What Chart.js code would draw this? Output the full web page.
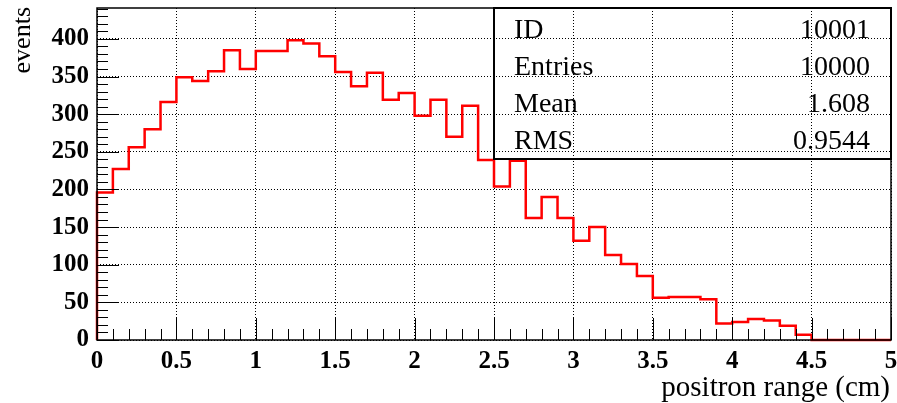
<!DOCTYPE html>
<html>
<head>
<meta charset="utf-8">
<script src="https://cdn.jsdelivr.net/npm/chart.js@4.4.1/dist/chart.umd.min.js"></script>
<style>
  body { margin: 0; background: #fff; }
  #caja { width: 897px; height: 403px; }
</style>
</head>
<body>
<div id="caja"><canvas id="myChart"></canvas></div>
<script>
// Histograma: 50 bins de 0.1 cm entre 0 y 5
const binWidth = 0.1;
const counts = [
  196, 227, 256, 280, 316, 349, 344, 357, 385, 360,
  384, 384, 398, 394, 377, 356, 337, 355, 319, 328,
  298, 319, 270, 311, 239, 204, 238, 162, 190, 162,
  132, 150, 113, 101, 85, 56, 57, 57, 54, 22,
  24, 28, 26, 19, 7, 0, 0, 0, 0, 0
];
const xTicks = [0, 0.5, 1, 1.5, 2, 2.5, 3, 3.5, 4, 4.5, 5];
const yTicks = [0, 50, 100, 150, 200, 250, 300, 350, 400];
const statNames = ['ID', 'Entries', 'Mean', 'RMS'];
const statValues = ['10001', '10000', '1.608', '0.9544'];

const fuente = '"Liberation Serif", "DejaVu Serif", serif';

// Puntos del escalon: (0,0), un punto por borde izquierdo de cada bin, cierre en x=5
const puntos = [{x: 0, y: 0}];
counts.forEach((c, i) => puntos.push({x: +(i * binWidth).toFixed(2), y: c}));
puntos.push({x: +(counts.length * binWidth).toFixed(2), y: counts[counts.length - 1]});

// Marco, ticks tipo ROOT hacia dentro, caja de estadisticas y titulos
const estiloRoot = {
  id: 'estiloRoot',
  afterDraw(chart) {
    const {ctx, chartArea: a, scales: {x, y}} = chart;
    ctx.save();
    ctx.strokeStyle = '#000';
    ctx.lineWidth = 1;
    ctx.beginPath();
    for (let v = 0; v <= 440; v += 10) {
      const py = Math.round(y.getPixelForValue(v)) + 0.5;
      const len = v % 50 === 0 ? 22 : 11;
      ctx.moveTo(a.left, py);
      ctx.lineTo(a.left + len, py);
    }
    for (let k = 0; k <= 50; k++) {
      const px = Math.round(x.getPixelForValue(k / 10)) + 0.5;
      const len = k % 5 === 0 ? 22 : 11;
      ctx.moveTo(px, a.bottom);
      ctx.lineTo(px, a.bottom - len);
    }
    ctx.stroke();

    // marco
    ctx.lineWidth = 1.5;
    ctx.strokeRect(a.left, a.top, a.right - a.left, a.bottom - a.top);

    // caja de estadisticas
    const bx = 494, by = a.top, bw = a.right - bx, bh = 159 - a.top;
    ctx.lineWidth = 2;
    ctx.strokeRect(bx, by, bw, bh);
    ctx.fillStyle = '#000';
    ctx.font = '28px ' + fuente;
    ctx.textBaseline = 'alphabetic';
    statNames.forEach((n, i) => {
      const base = 37.5 + i * 37.3;
      ctx.textAlign = 'left';
      ctx.fillText(n, 514, base);
      ctx.textAlign = 'right';
      ctx.fillText(statValues[i], 870, base);
    });

    // titulos de ejes
    ctx.font = '29px ' + fuente;
    ctx.textAlign = 'right';
    ctx.fillText('positron range (cm)', 890, 396);
    ctx.translate(23, 7);
    ctx.rotate(-Math.PI / 2);
    ctx.font = '26px ' + fuente;
    ctx.textAlign = 'right';
    ctx.textBaseline = 'middle';
    ctx.fillText('events', 0, 0);
    ctx.restore();
  }
};

new Chart(document.getElementById('myChart'), {
  type: 'line',
  data: {
    datasets: [{
      label: 'positron range',
      data: puntos,
      stepped: 'before',
      borderColor: '#ff0000',
      borderWidth: 2.5,
      pointRadius: 0,
      fill: false,
      clip: 4
    }]
  },
  options: {
    responsive: true,
    maintainAspectRatio: false,
    animation: false,
    layout: { padding: { top: 8, right: 6, left: 0, bottom: 0 } },
    plugins: { legend: { display: false }, tooltip: { enabled: false } },
    scales: {
      x: {
        type: 'linear',
        min: 0,
        max: 5,
        afterBuildTicks: s => { s.ticks = xTicks.map(v => ({value: v})); },
        afterFit: s => { s.height = 63; s.paddingLeft = 0; s.paddingRight = 0; },
        grid: { color: '#000', lineWidth: 1, drawTicks: false },
        border: { display: false, dash: [1, 2] },
        ticks: {
          color: '#000',
          padding: 7,
          maxRotation: 0,
          font: { family: fuente, size: 25, weight: 'bold' },
          callback: v => String(v)
        }
      },
      y: {
        type: 'linear',
        min: 0,
        max: 441,
        afterBuildTicks: s => { s.ticks = yTicks.map(v => ({value: v})); },
        afterFit: s => { s.width = 97; s.paddingTop = 0; s.paddingBottom = 0; },
        grid: { color: '#000', lineWidth: 1, drawTicks: false },
        border: { display: false, dash: [1, 2] },
        ticks: {
          color: '#000',
          padding: 8,
          font: { family: fuente, size: 25, weight: 'bold' },
          callback: v => String(v)
        }
      }
    }
  },
  plugins: [estiloRoot]
});
</script>
</body>
</html>
